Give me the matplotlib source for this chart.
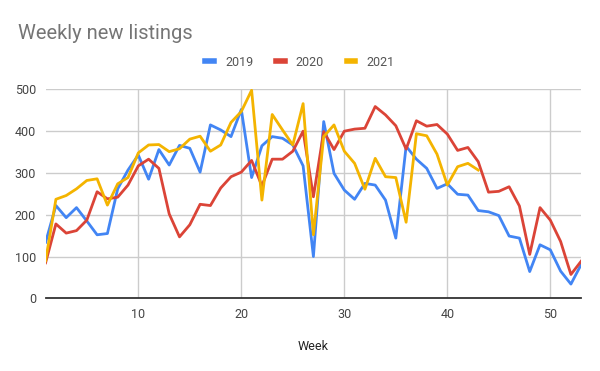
import matplotlib
matplotlib.use("Agg")
import matplotlib.pyplot as plt

weeks_2019 = list(range(1, 54))
v2019 = [134, 222, 193, 217, 185, 152, 155, 262, 307, 343, 285, 356, 319, 366, 359, 302,
         415, 403, 387, 452, 289, 365, 387, 383, 367, 317, 100, 423, 299, 259, 237, 275,
         271, 235, 144, 364, 333, 311, 263, 274, 249, 247, 210, 207, 198, 149, 144, 64,
         128, 116, 65, 34, 81]
weeks_2020 = list(range(1, 54))
v2020 = [85, 178, 156, 162, 187, 255, 238, 242, 271, 317, 333, 311, 202, 147, 176, 225,
         222, 264, 291, 302, 330, 269, 333, 333, 352, 400, 243, 399, 356, 400, 405, 407,
         459, 439, 413, 357, 425, 412, 416, 393, 354, 361, 327, 254, 256, 267, 221, 105,
         217, 187, 136, 57, 89]
weeks_2021 = list(range(1, 44))
v2021 = [90, 237, 246, 262, 282, 286, 223, 274, 289, 348, 367, 368, 351, 358, 381, 388,
         352, 367, 421, 447, 498, 235, 440, 403, 367, 466, 152, 387, 415, 352, 323, 261,
         335, 291, 289, 182, 394, 389, 345, 271, 315, 323, 307]

x_ticks = [10, 20, 30, 40, 50]
y_ticks = [0, 100, 200, 300, 400, 500]

plt.rcParams['font.family'] = ['Roboto', 'DejaVu Sans']

fig = plt.figure(figsize=(6, 3.71), dpi=100)
ax = fig.add_axes([0.076, 0.196, 0.8927, 0.563])

ax.plot(weeks_2019, v2019, color='#4285F4', lw=2, label='2019')
ax.plot(weeks_2020, v2020, color='#DB4437', lw=2, label='2020')
ax.plot(weeks_2021, v2021, color='#F4B400', lw=2, label='2021')

ax.set_xlim(1, 53)
ax.set_ylim(0, 500)
ax.set_xticks(x_ticks)
ax.set_yticks(y_ticks)
ax.grid(True, color='#cccccc', lw=1)
ax.set_axisbelow(True)
for s in ['top', 'right', 'left']:
    ax.spines[s].set_visible(False)
ax.spines['bottom'].set_color('#333333')
ax.spines['bottom'].set_linewidth(1.3)
ax.tick_params(length=0, labelsize=9, colors='#444444', pad=7)
ax.set_xlabel('Week', fontsize=9, color='#222222', labelpad=14)

fig.text(0.03, 0.91, 'Weekly new listings', fontsize=14.5, color='#757575', va='center')

leg = fig.legend(*ax.get_legend_handles_labels(), loc='center', bbox_to_anchor=(0.5, 0.832),
                 ncol=3, frameon=False, fontsize=9, handlelength=0.7,
                 handletextpad=0.9, columnspacing=1.8, borderpad=0)
for line in leg.get_lines():
    line.set_linewidth(4)
for t in leg.get_texts():
    t.set_color('#555555')

fig.savefig('out.png', dpi=100)
